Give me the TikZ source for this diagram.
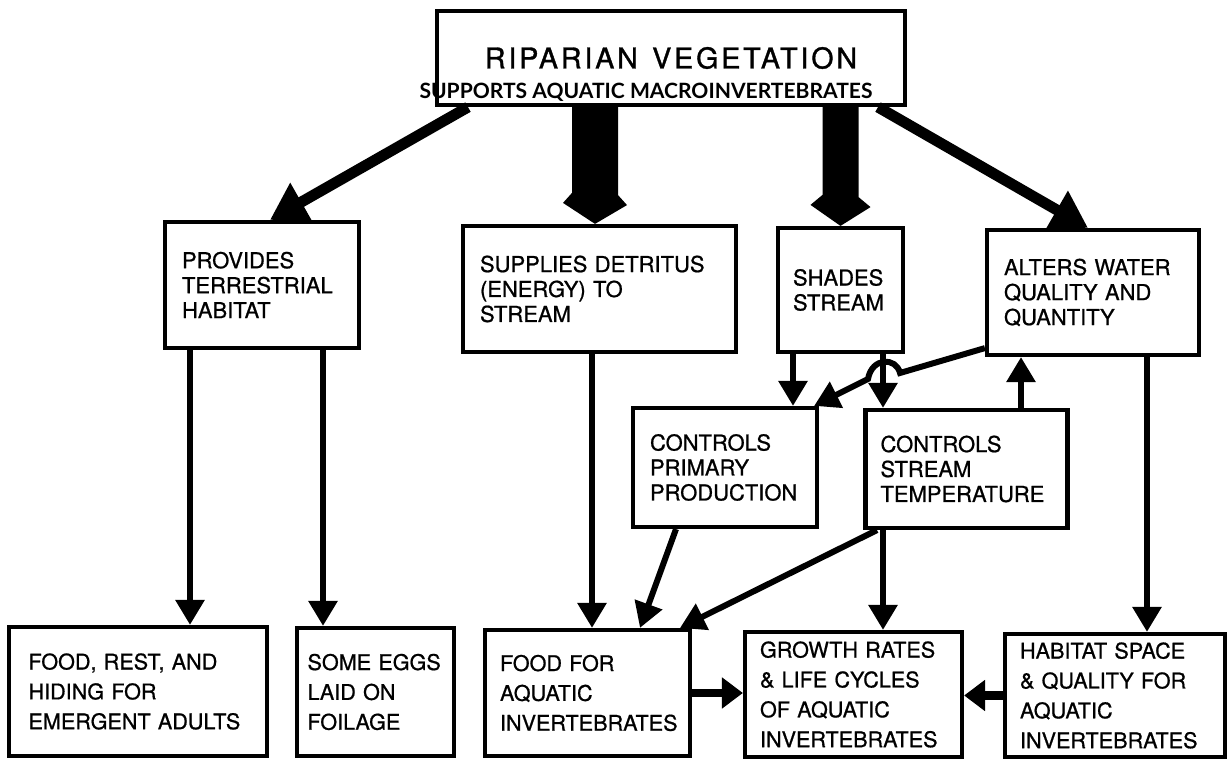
\documentclass[tikz,border=0pt]{standalone}
\usepackage{fontspec}
\usetikzlibrary{arrows.meta}
\newfontfamily\lettering[FakeBold=0.8]{TeX Gyre Heros}
\newfontfamily\titlefont[LetterSpace=10,FakeBold=1.2]{TeX Gyre Heros}
\newfontfamily\latofont{Lato}

\begin{document}
\begin{tikzpicture}[x=0.02cm,y=0.02cm,
    bx/.style={draw,line width=2.4pt,align=left,inner xsep=0.34cm,font=\lettering\fontsize{12.5}{14.2}\selectfont},
    lowbx/.style={bx,inner xsep=0.3cm,font=\lettering\fontsize{12.3}{17}\selectfont},
    ar/.style={-{Triangle[width=0.56cm,length=0.5cm]},line width=3.4pt},
    bigar/.style={-{Triangle[width=0.84cm,length=0.72cm]},line width=6.2pt},
    side/.style={-{Triangle[width=0.6cm,length=0.42cm]},line width=5pt}]
    \useasboundingbox (0,0) rectangle (1228,760);
    \node[draw,line width=2.4pt,minimum width=9.36cm,minimum height=1.88cm,font=\titlefont\fontsize{16.3}{18}\selectfont] (veg) at (671,702) {RIPARIAN\hspace{0.5em}VEGETATION};
    \node[font=\latofont\bfseries\fontsize{12}{14}\selectfont] (sup) at (646,668) {SUPPORTS AQUATIC MACROINVERTEBRATES};
    \node[bx,text width=3.2cm,minimum height=2.52cm] (prov) at (262,475) {PROVIDES\\TERRESTRIAL\\HABITAT};
    \node[bx,text width=4.78cm,minimum height=2.52cm] (supp) at (599.5,471) {SUPPLIES DETRITUS\\(ENERGY) TO\\STREAM};
    \node[bx,text width=1.9cm,minimum height=2.48cm,inner xsep=0.3cm] (shad) at (840.5,470) {SHADES\\STREAM};
    \node[bx,text width=3.56cm,minimum height=2.5cm] (alt) at (1093,467.5) {ALTERS WATER\\QUALITY AND\\QUANTITY};
    \node[bx,text width=3.0cm,minimum height=2.38cm] (prim) at (725,292.5) {CONTROLS\\PRIMARY\\PRODUCTION};
    \node[bx,text width=3.44cm,minimum height=2.36cm,inner xsep=0.3cm] (temp) at (966.5,291) {CONTROLS\\STREAM\\TEMPERATURE};
    \node[lowbx,text width=4.38cm,minimum height=2.58cm,inner xsep=0.39cm] (frest) at (138,68.5) {FOOD, REST, AND\\HIDING FOR\\EMERGENT ADULTS};
    \node[lowbx,text width=2.72cm,minimum height=2.56cm,inner xsep=0.21cm] (eggs) at (375.5,68) {SOME EGGS\\LAID ON\\FOILAGE};
    \node[lowbx,text width=3.5cm,minimum height=2.52cm] (ffood) at (587.5,67) {FOOD FOR\\AQUATIC\\INVERTEBRATES};
    \node[lowbx,text width=3.74cm,minimum height=2.5cm] (grow) at (853.5,65.5) {GROWTH RATES\\\& LIFE CYCLES\\OF AQUATIC\\INVERTEBRATES};
    \node[lowbx,text width=3.8cm,minimum height=2.46cm] (hab) at (1115,64.5) {HABITAT SPACE\\\& QUALITY FOR\\AQUATIC\\INVERTEBRATES};
    \draw[bigar] (veg.south -| 468,0) -- (prov.north -| 270,0);
    \fill (supp.north -| 595,0) -- ++(-32,21) -- ++(9,10) -- (veg.south -| 572,0) -- ++(46,0) -- ++(0,-88) -- ++(9,-10) -- cycle;
    \fill (shad.north) -- ++(-30,21) -- ++(12,10) -- (veg.south -| 822.5,0) -- ++(36,0) -- ++(0,-90) -- ++(12,-10) -- cycle;
    \draw[bigar] (veg.south -| 878,0) -- (alt.north -| 1088,0);
    \draw[ar] (prov.south -| 190,0) -- (frest.north -| 190,0);
    \draw[ar] (prov.south -| 323,0) -- (eggs.north -| 323,0);
    \draw[ar] (supp.south -| 592,0) -- (ffood.north -| 592,0);
    \draw[ar] (shad.south -| 793,0) -- (prim.north -| 793,0);
    \draw[ar] (shad.south -| 883,0) -- (temp.north -| 883,0);
    \draw[ar] (temp.north -| 1021,0) -- (alt.south -| 1021,0);
    \draw[ar] (alt.south -| 1147,0) -- (hab.north -| 1147,0);
    \draw[ar] (temp.south -| 883,0) -- (grow.north -| 883,0);
    \draw[ar] (prim.south -| 676,0) -- (ffood.north -| 640,0);
    \draw[ar] (temp.south -| 877,0) -- (ffood.north -| 680,0);
    \draw[ar] ([yshift=0.18cm]alt.south west) -- (900,387) .. controls (896,403) and (872,403) .. (868,381) -- ([xshift=-0.1cm]prim.north east);
    \draw[side] (ffood.east) -- (ffood.east -| grow.west);
    \draw[side] (hab.west) -- (hab.west -| grow.east);
\end{tikzpicture}
\end{document}
